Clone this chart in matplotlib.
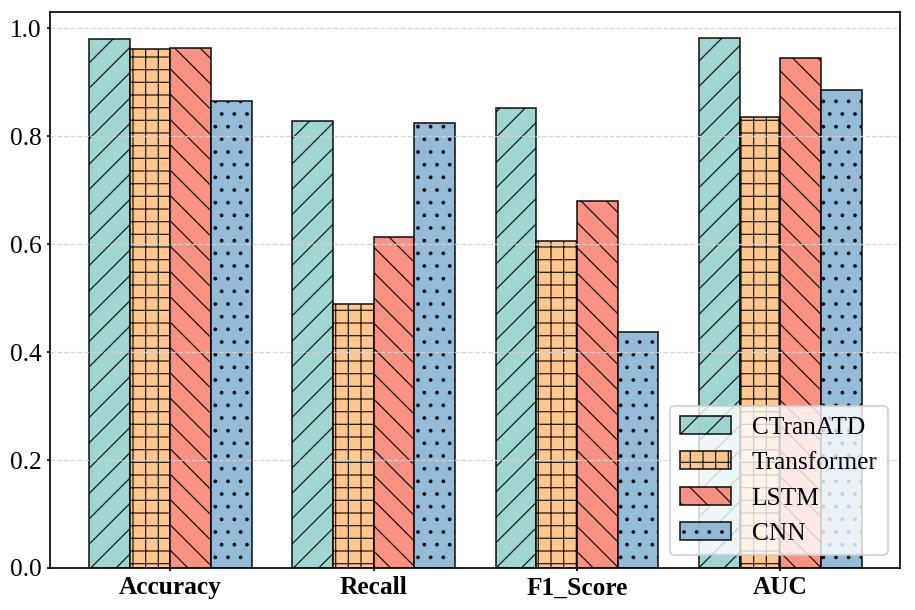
import numpy as np
import matplotlib
matplotlib.use("Agg")
import matplotlib.pyplot as plt

plt.rcParams['font.family'] = ['Liberation Serif', 'DejaVu Serif']
plt.rcParams['font.size'] = 12
plt.rcParams['hatch.linewidth'] = 0.6

metrics = ["Accuracy", "Recall", "F1_Score", "AUC"]
models = ["CTranATD", "Transformer", "LSTM", "CNN"]
ctranatd = [0.981, 0.828, 0.852, 0.983]
transformer = [0.961, 0.489, 0.606, 0.835]
lstm = [0.963, 0.613, 0.680, 0.946]
cnn = [0.865, 0.824, 0.437, 0.885]

colors = ['#8ECFC9', '#FFBE7A', '#FA7F6F', '#82B0D2']
hatches = ['//', '++', '\\\\', '..']

values = [ctranatd, transformer, lstm, cnn]

fig, ax = plt.subplots(figsize=(6, 4), dpi=152.5)
x = np.arange(len(metrics))
w = 0.2
for k, (name, vals) in enumerate(zip(models, values)):
    ax.bar(x + (k - 1.5) * w, vals, w, label=name, color=colors[k],
           edgecolor='black', hatch=hatches[k], alpha=0.85, linewidth=0.8)

ax.set_xticks(x)
ax.set_xticklabels(metrics, fontweight='bold')
ax.set_ylim(0, 1.03)
ax.tick_params(length=1.5, pad=2.5)
ax.yaxis.grid(True, linestyle='--', color='lightgray', alpha=0.9, linewidth=0.6)
ax.legend(loc='lower right')

plt.subplots_adjust(left=0.055, right=0.984, top=0.98, bottom=0.069)
plt.savefig("out.png")
